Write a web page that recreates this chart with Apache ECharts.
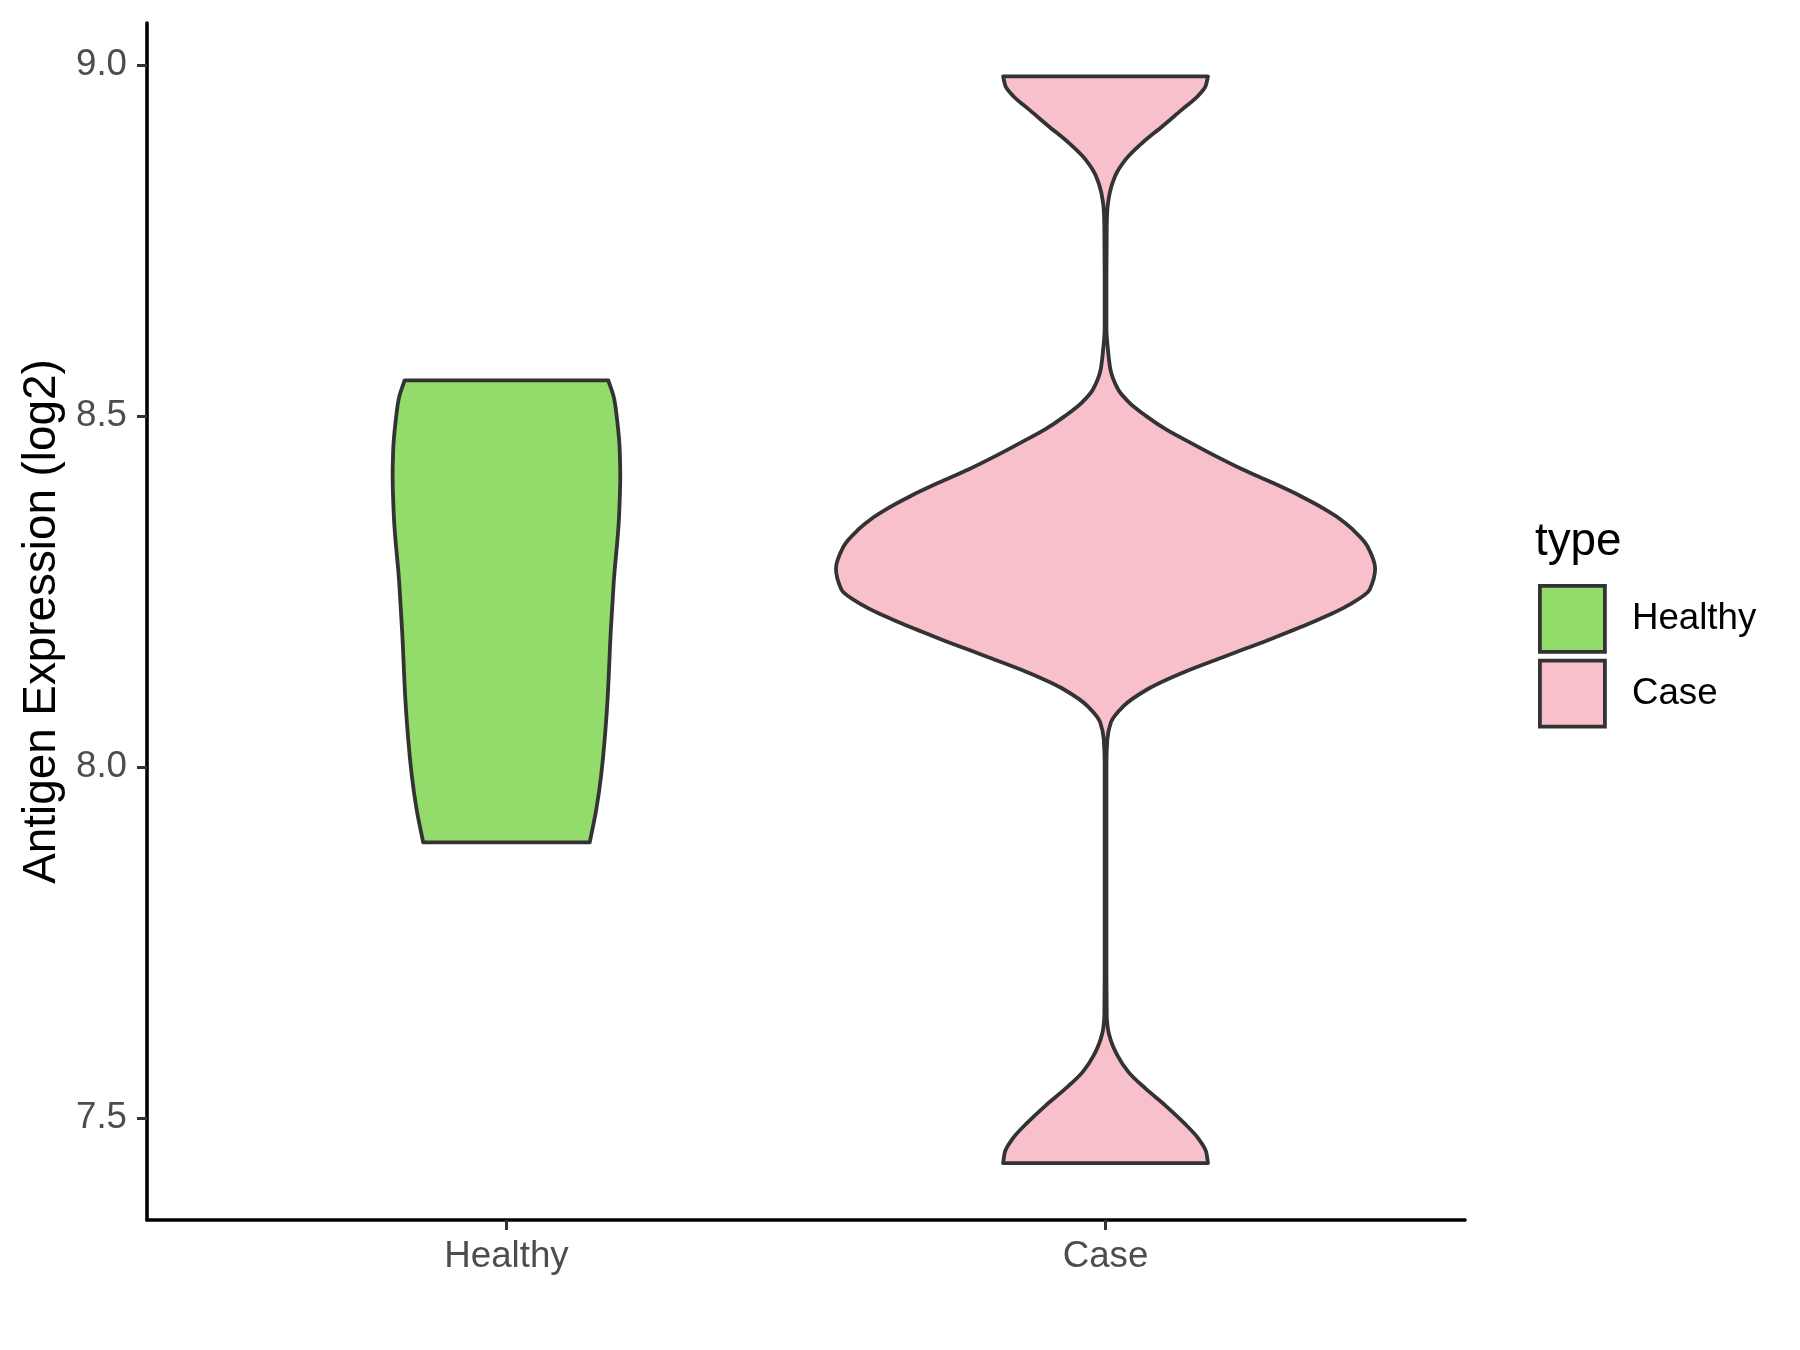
<!DOCTYPE html>
<html>
<head>
<meta charset="utf-8">
<script src="https://cdn.jsdelivr.net/npm/echarts@6/dist/echarts.min.js"></script>
<style>
  html, body { margin: 0; padding: 0; background: #ffffff; }
  #chart { width: 1800px; height: 1350px; }
</style>
</head>
<body>
<div id="chart"></div>
<script>
// ---- data ----
const categories = ['Healthy', 'Case'];
const yTicks = [7.5, 8.0, 8.5, 9.0];

// Healthy violin profile (bottom -> top): expression value and half-width (x-axis units)
const healthyY  = [7.893, 7.940, 7.988, 8.040, 8.100, 8.192, 8.263, 8.358, 8.415, 8.453, 8.500, 8.524, 8.551];
const healthyHW = [0.139, 0.150, 0.158, 0.164, 0.169, 0.174, 0.179, 0.188, 0.190, 0.189, 0.184, 0.180, 0.170];

// Case violin profile (bottom -> top)
const caseY  = [7.436, 7.452, 7.471, 7.494, 7.518, 7.542, 7.566, 7.589, 7.613, 7.627, 7.646, 7.700, 7.800, 7.900,
                8.007, 8.040, 8.064, 8.087, 8.111, 8.135, 8.158, 8.182, 8.206, 8.230, 8.253, 8.283, 8.315, 8.339,
                8.355, 8.367, 8.386, 8.405, 8.424, 8.443, 8.462, 8.481, 8.500, 8.519, 8.538, 8.567, 8.595, 8.624,
                8.700, 8.770, 8.794, 8.818, 8.842, 8.865, 8.889, 8.913, 8.937, 8.955, 8.970, 8.984];
const caseHW = [0.171, 0.168, 0.155, 0.130, 0.100, 0.067, 0.038, 0.020, 0.008, 0.004, 0.002, 0.0015, 0.0015, 0.0015,
                0.0015, 0.003, 0.009, 0.030, 0.070, 0.130, 0.200, 0.274, 0.344, 0.404, 0.441, 0.450, 0.437, 0.412,
                0.389, 0.367, 0.326, 0.279, 0.229, 0.184, 0.142, 0.101, 0.068, 0.040, 0.021, 0.008, 0.004, 0.0015,
                0.0015, 0.002, 0.003, 0.007, 0.016, 0.033, 0.061, 0.095, 0.128, 0.153, 0.167, 0.171];

const colors = { Healthy: '#93db6b', Case: '#f7c0cb' };
const FONT = "'Liberation Sans', Arial, Helvetica, sans-serif";

// monotone cubic (Fritsch-Carlson) tangents of hw(y), used only for drawing smooth outlines
function tangents(ys, ws) {
  const n = ys.length, d = [], m = new Array(n);
  for (let i = 0; i < n - 1; i++) d.push((ws[i + 1] - ws[i]) / (ys[i + 1] - ys[i]));
  m[0] = d[0]; m[n - 1] = d[n - 2];
  for (let i = 1; i < n - 1; i++) {
    if (d[i - 1] * d[i] <= 0) { m[i] = 0; }
    else {
      const h0 = ys[i] - ys[i - 1], h1 = ys[i + 1] - ys[i];
      const w1 = 2 * h1 + h0, w2 = h1 + 2 * h0;
      m[i] = (w1 + w2) / (w1 / d[i - 1] + w2 / d[i]);
    }
  }
  return m;
}

function makeViolinSeries(name, center, ys, hws) {
  const data = ys.map((y, i) => [center, y, hws[i]]);
  const m = tangents(ys, hws);
  return {
    type: 'custom',
    name: name,
    data: data,
    encode: { x: 0, y: 1 },
    silent: true,
    itemStyle: { color: colors[name], borderColor: '#333333', borderWidth: 3.8 },
    renderItem: function (params, api) {
      if (params.dataIndex !== 0) return null;
      const n = ys.length;
      const P = (s, w, y) => api.coord([center + s * w, y]);
      const pt = p => p[0] + ' ' + p[1];
      const d = [];
      d.push('M' + pt(P(-1, hws[0], ys[0])));
      for (let i = 0; i < n - 1; i++) {
        const h = ys[i + 1] - ys[i];
        const c1 = P(-1, hws[i] + m[i] * h / 3, ys[i] + h / 3);
        const c2 = P(-1, hws[i + 1] - m[i + 1] * h / 3, ys[i + 1] - h / 3);
        const e = P(-1, hws[i + 1], ys[i + 1]);
        d.push('C' + pt(c1) + ' ' + pt(c2) + ' ' + pt(e));
      }
      d.push('L' + pt(P(1, hws[n - 1], ys[n - 1])));
      for (let i = n - 1; i > 0; i--) {
        const h = ys[i] - ys[i - 1];
        const c1 = P(1, hws[i] - m[i] * h / 3, ys[i] - h / 3);
        const c2 = P(1, hws[i - 1] + m[i - 1] * h / 3, ys[i - 1] + h / 3);
        const e = P(1, hws[i - 1], ys[i - 1]);
        d.push('C' + pt(c1) + ' ' + pt(c2) + ' ' + pt(e));
      }
      d.push('Z');
      return {
        type: 'path',
        shape: { pathData: d.join(' ') },
        style: { fill: colors[name], stroke: '#333333', lineWidth: 3.8, lineJoin: 'round' }
      };
    }
  };
}

const chart = echarts.init(document.getElementById('chart'), null, { renderer: 'canvas' });

const option = {
  backgroundColor: '#ffffff',
  animation: false,
  textStyle: { fontFamily: FONT },
  title: {
    text: 'type',
    left: 1535,
    top: 519,
    padding: 0,
    textStyle: { fontFamily: FONT, fontSize: 45.8, fontWeight: 'normal', color: '#000000' }
  },
  legend: {
    orient: 'vertical',
    left: 1538,
    top: 584,
    padding: 0,
    itemWidth: 65,
    itemHeight: 66,
    itemGap: 5,
    selectedMode: false,
    textStyle: { fontFamily: FONT, fontSize: 36.7, color: '#000000', padding: [0, 0, 0, 22] },
    data: categories.map(c => ({
      name: c,
      icon: 'rect',
      itemStyle: { color: colors[c], borderColor: '#333333', borderWidth: 3.8 }
    }))
  },
  grid: { left: 147, right: 335, top: 23, bottom: 130, containLabel: false },
  xAxis: {
    type: 'value',
    min: 0.4,
    max: 2.6,
    splitLine: { show: false },
    axisLine: { show: true, onZero: false, lineStyle: { color: '#000000', width: 3.6 } },
    axisTick: { show: true, customValues: [1, 2], length: 10, lineStyle: { color: '#333333', width: 3 } },
    axisLabel: {
      customValues: [1, 2],
      margin: 18,
      fontFamily: FONT,
      fontSize: 36.7,
      color: '#4d4d4d',
      formatter: v => categories[Math.round(v) - 1] || ''
    }
  },
  yAxis: {
    type: 'value',
    min: 7.355,
    max: 9.06,
    name: 'Antigen Expression (log2)',
    nameLocation: 'middle',
    nameGap: 82,
    nameTextStyle: { fontFamily: FONT, fontSize: 45.8, color: '#000000' },
    splitLine: { show: false },
    axisLine: { show: true, onZero: false, lineStyle: { color: '#000000', width: 3.6 } },
    axisTick: { show: true, customValues: yTicks, length: 10, lineStyle: { color: '#333333', width: 3 } },
    axisLabel: {
      customValues: yTicks,
      margin: 20,
      fontFamily: FONT,
      fontSize: 36.7,
      color: '#4d4d4d',
      formatter: v => v.toFixed(1)
    }
  },
  series: [
    makeViolinSeries('Healthy', 1, healthyY, healthyHW),
    makeViolinSeries('Case', 2, caseY, caseHW)
  ]
};

chart.setOption(option);
</script>
</body>
</html>
